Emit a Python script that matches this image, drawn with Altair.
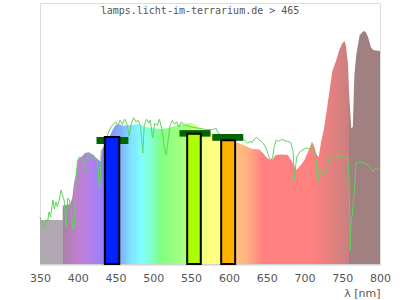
import altair as alt
import pandas as pd

# ---- lamp spectrum (filled, coloured area) ----
lamp_nm = [350, 379.9, 380, 390, 393, 395, 398, 400, 405, 410, 415, 420, 425, 430, 432,
           443, 446, 450, 455, 460, 470, 480, 490, 500, 510, 520, 530, 540, 545, 550,
           555, 560, 565, 570, 575, 580, 585, 590, 600, 610, 612, 620, 630, 640, 645,
           650, 655, 658, 662, 670, 678, 684, 689, 694, 700, 704, 707, 710, 713, 716,
           719, 722, 726, 730, 733, 737, 742, 746, 750, 753, 755, 757.5, 759.6, 762, 764,
           765, 766, 768.5, 773, 778, 781, 784, 788, 791, 795, 800]
lamp_val = [16.9, 16.9, 22.3, 23.0, 25.8, 30.9, 34.9, 39.8, 41.1, 42.6, 42.8, 41.8, 40.5, 39.2, 43.7,
            49.4, 51.3, 53.3, 53.5, 53.0, 53.3, 53.6, 52.5, 52.0, 51.7, 52.1, 53.0, 53.6, 54.0, 54.0,
            53.5, 52.5, 51.5, 50.8, 50.2, 49.4, 48.5, 47.8, 47.0, 46.5, 46.5, 45.5, 44.2, 43.9, 42.5,
            40.8, 39.8, 40.2, 41.8, 42.0, 41.8, 39.0, 36.0, 37.5, 39.8, 42.5, 44.5, 46.9, 45.0, 42.0,
            41.1, 46.7, 52.0, 60.0, 66.0, 74.0, 78.0, 82.0, 84.5, 85.4, 83.5, 77.0, 62.8, 52.0, 52.5,
            62.0, 72.0, 80.0, 87.6, 89.3, 88.9, 87.2, 83.0, 82.0, 81.8, 81.6]

# ---- reference (sunlight) curve ----
sun_nm = [350, 352, 354, 356, 358, 360, 362, 364, 367, 369, 371, 373, 375, 378, 380, 382,
          384.5, 386.8, 389, 391, 393.4, 395.7, 398, 400, 402, 404.5, 407, 409, 411, 413, 416,
          418, 420, 422, 424, 426.5, 428.7, 430, 431, 435, 440, 444, 447, 450, 453, 456, 459,
          462, 465, 468, 471, 474, 477, 480, 483, 486, 488, 491, 494, 496, 499, 502, 505, 508,
          511, 514.8, 517, 519, 522, 525, 528, 531, 534, 537, 540, 545, 550, 560, 570, 576,
          580, 583, 586, 590, 600, 610, 615, 619, 622, 625, 628, 631, 634, 637, 640, 643, 646,
          649, 652, 654, 656, 658, 660, 662.6, 666, 670, 674, 678, 682, 685, 687, 688.5, 690,
          694, 698, 702, 707, 711, 714, 715.5, 717.7, 719.5, 722, 725, 728.8, 731, 733, 737,
          742, 746, 750, 754, 757, 758.5, 759.6, 760.5, 761.5, 763, 766, 768.5, 773, 778, 783,
          788, 790.5, 794, 797, 800]
sun_val = [18.1, 16.0, 15.5, 13.8, 17.0, 16.0, 20.0, 18.0, 24.5, 21.0, 23.8, 22.0, 24.0, 28.4, 26.0, 24.5,
           14.3, 25.3, 24.5, 21.0, 13.0, 15.7, 34.9, 39.8, 41.0, 40.5, 39.0, 35.5, 40.0, 41.7, 42.0,
           40.6, 42.0, 41.2, 40.0, 38.3, 28.4, 35.0, 43.2, 45.0, 50.0, 52.6, 53.5, 54.5, 53.0, 55.0, 53.5,
           55.5, 53.8, 49.0, 54.0, 56.0, 54.5, 55.0, 53.0, 42.5, 53.0, 55.5, 54.0, 55.2, 48.3, 54.0, 53.0, 55.5,
           52.0, 44.4, 41.8, 46.0, 53.0, 55.0, 53.5, 54.5, 52.5, 54.5, 53.5, 53.0, 52.5, 52.0, 51.5, 51.5,
           51.6, 52.0, 50.0, 49.5, 48.5, 48.0, 48.5, 48.0, 47.0, 46.3, 47.0, 46.5, 48.0, 48.5, 47.5, 47.0, 46.0,
           44.5, 42.0, 40.5, 39.8, 41.0, 45.0, 47.5, 47.0, 47.8, 47.2, 47.0, 46.5, 43.0, 32.0, 38.0, 41.1,
           43.0, 43.7, 44.5, 44.0, 45.0, 42.0, 39.8, 31.0, 36.0, 36.0, 34.0, 35.5, 38.0, 41.1, 42.0,
           41.0, 41.5, 41.0, 41.2, 40.5, 37.0, 24.5, 5.0, 15.0, 18.5, 27.5, 38.6, 39.2, 38.8, 38.3,
           36.5, 35.5, 36.5, 36.0, 37.0]

# ---- LED bars and their caps ----
bar_start = [435.8, 544.8, 589.8]
bar_end = [454.9, 562.8, 608.3]
bar_top = [48.7, 49.9, 47.4]
bar_color = ["#0022ff", "#aaff00", "#ffb000"]

cap_start = [424.8, 534.6, 578.0]
cap_end = [467.0, 575.7, 619.0]
cap_lo = [46.0, 48.8, 47.2]
cap_hi = [48.7, 51.3, 49.8]

tick_values = [350, 400, 450, 500, 550, 600, 650, 700, 750, 800]
title_text = "lamps.licht-im-terrarium.de > 465"

lamp_df = pd.DataFrame({"nm": lamp_nm, "v": lamp_val})
sun_df = pd.DataFrame({"nm": sun_nm, "v": sun_val})
bar_df = pd.DataFrame({"s": bar_start, "e": bar_end, "top": bar_top, "c": bar_color,
                       "zero": [0, 0, 0]})
cap_df = pd.DataFrame({"s": cap_start, "e": cap_end, "lo": cap_lo, "hi": cap_hi})

xs = alt.Scale(domain=[350, 800], nice=False)
ys = alt.Scale(domain=[0, 100], nice=False)

def stop(nm, col):
    return alt.GradientStop(offset=(nm - 350) / 450.0, color=col)

grad = alt.Gradient(
    gradient="linear", x1=0, x2=1, y1=0, y2=0,
    stops=[
        stop(350, "#b0a8b0"), stop(379.8, "#b0a8b0"), stop(380, "#a880a8"),
        stop(400, "#c080d0"), stop(420, "#b080f0"), stop(435, "#9080ff"),
        stop(456, "#80b0ff"), stop(470, "#80e0ff"), stop(485, "#80ffff"),
        stop(500, "#80ffc0"), stop(510, "#80ff80"), stop(540, "#a8ff80"),
        stop(565, "#f0ff80"), stop(575, "#ffff80"), stop(590, "#ffff80"),
        stop(610, "#ffc080"), stop(625, "#ffb080"), stop(645, "#ff8080"),
        stop(710, "#ff8080"), stop(740, "#e08080"), stop(759.4, "#c88080"),
        stop(759.6, "#a08080"), stop(800, "#a08080"),
    ],
)

xaxis = alt.Axis(values=tick_values, ticks=False, grid=False, domain=True,
                 domainColor="#d0d0d0", domainWidth=2, labelColor="#555555",
                 labelFont="DejaVu Sans", labelFontSize=11, labelPadding=8,
                 labelOverlap=False, labelFlush=False, labelSeparation=0,
                 title="λ [nm]", titleAnchor="end", titleColor="#555555",
                 titleFont="DejaVu Sans", titleFontSize=11, titleFontWeight="normal",
                 titlePadding=4)

area = alt.Chart(lamp_df).mark_area(color=grad, interpolate="linear").encode(
    x=alt.X("nm:Q", scale=xs, axis=xaxis),
    y=alt.Y("v:Q", scale=ys, axis=None),
)

line = alt.Chart(sun_df).mark_line(color="#5fd35f", strokeWidth=1).encode(
    x=alt.X("nm:Q", scale=xs, axis=xaxis),
    y=alt.Y("v:Q", scale=ys, axis=None),
)

caps = alt.Chart(cap_df).mark_rect(color="#006400").encode(
    x=alt.X("s:Q", scale=xs, axis=xaxis), x2="e:Q",
    y=alt.Y("lo:Q", scale=ys, axis=None), y2="hi:Q",
)

bars = alt.Chart(bar_df).mark_rect(stroke="black", strokeWidth=2).encode(
    x=alt.X("s:Q", scale=xs, axis=xaxis), x2="e:Q",
    y=alt.Y("zero:Q", scale=ys, axis=None), y2="top:Q",
    fill=alt.Fill("c:N", scale=None),
)

title = alt.Chart(pd.DataFrame({"t": [title_text]})).mark_text(
    font="DejaVu Sans Mono", fontSize=10, color="#555555", baseline="middle", align="center"
).encode(x=alt.value(160), y=alt.value(8), text="t:N")

chart = alt.layer(area, line, caps, bars, title).properties(
    width=340, height=261,
    autosize=alt.AutoSizeParams(type="none"),
    padding={"left": 40, "top": 3, "right": 20, "bottom": 36},
).configure_view(stroke="#d0d0d0", strokeWidth=1).configure_axisX(
    labelOverlap=False, labelSeparation=0
).configure(background="white")

chart.save("out.html", embed_options={"renderer": "svg", "actions": False})
